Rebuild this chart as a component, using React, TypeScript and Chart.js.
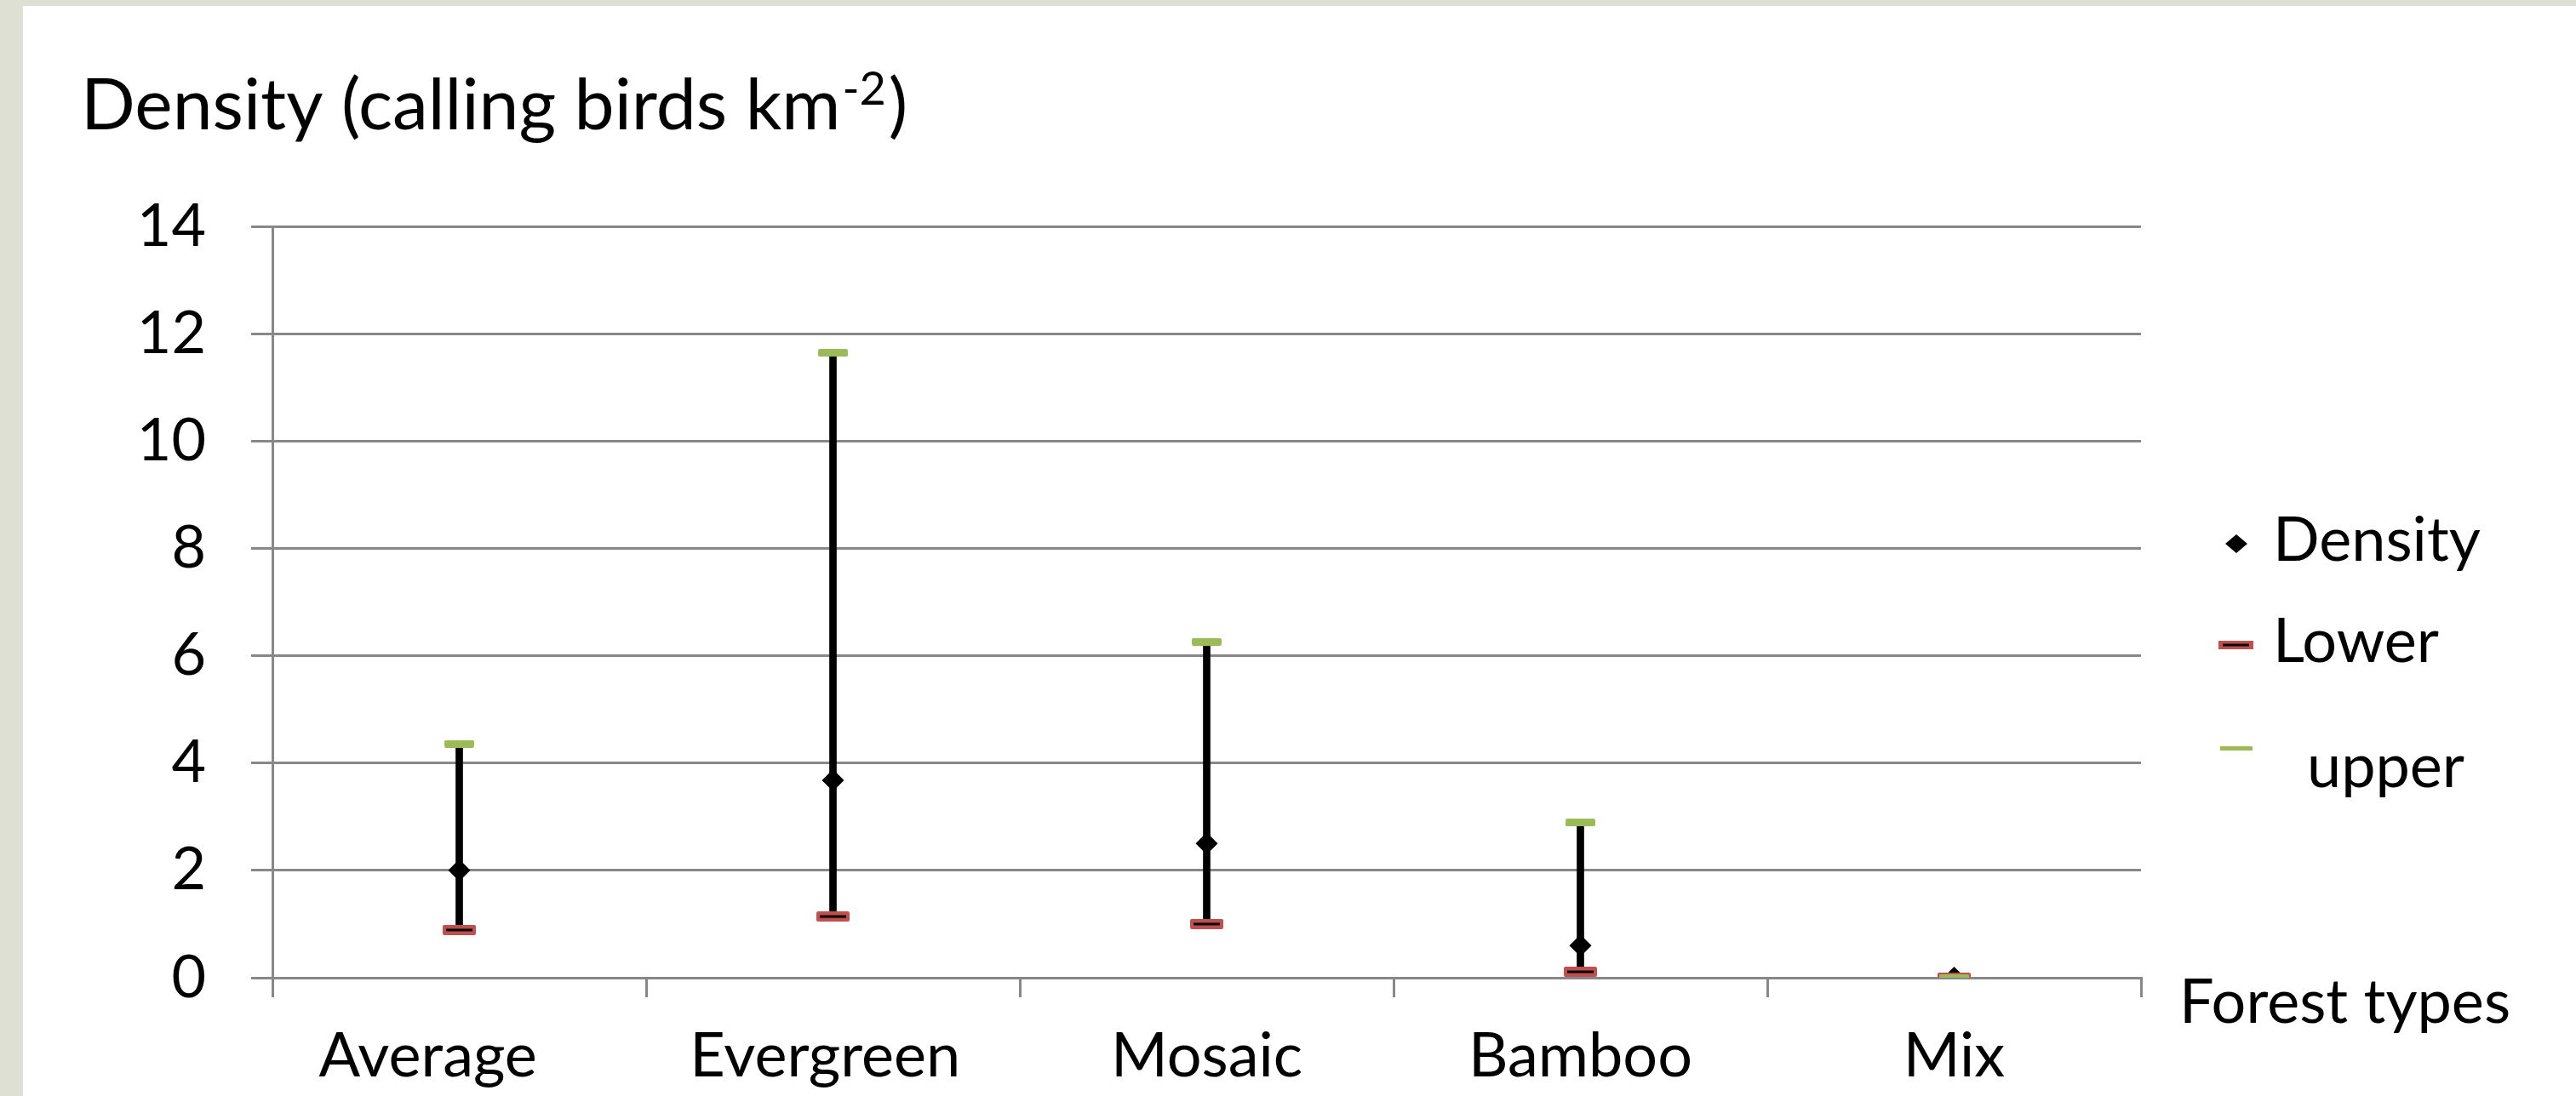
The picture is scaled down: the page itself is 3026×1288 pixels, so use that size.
import React, { useEffect, useRef } from "react";
import { Chart, registerables } from "chart.js";

Chart.register(...registerables);

// ---- data ----
const categories = ["Average    ", "Evergreen ", "Mosaic", "Bamboo", "Mix"];
const density = [2.0, 3.68, 2.5, 0.6, 0.0];
const lower = [0.89, 1.14, 1.0, 0.11, 0.0];
const upper = [4.36, 11.64, 6.26, 2.89, 0.0];
const yTicks = [0, 2, 4, 6, 8, 10, 12, 14];
const legendLabels = ["Density", "Lower", "upper"];
const yTitle = "Density (calling birds km";
const yTitleSup = "-2";
const xTitle = "Forest types";

const FONT = "Lato";
const GRID = "#888888";
const RED = "#c0504d";
const GREEN = "#9bbb59";

function makeCap(w: number, h: number, color: string, line: boolean) {
  const c = document.createElement("canvas");
  c.width = w;
  c.height = h;
  const g = c.getContext("2d")!;
  g.fillStyle = color;
  g.beginPath();
  (g as any).roundRect(0, 0, w, h, 2);
  g.fill();
  if (line) {
    g.fillStyle = "#000";
    g.fillRect(4, h / 2 - 1.5, w - 8, 3);
  }
  return c;
}

export default function App() {
  const ref = useRef<HTMLCanvasElement | null>(null);

  useEffect(() => {
    document.body.style.margin = "0";
    const canvas = ref.current!;
    const lowCap = makeCap(39, 12, RED, true);
    const upCap = makeCap(35, 9, GREEN, false);

    const overlay = {
      id: "overlay",
      afterDraw(chart: any) {
        const ctx = chart.ctx as CanvasRenderingContext2D;
        ctx.save();
        ctx.fillStyle = "#000";
        ctx.textAlign = "left";
        ctx.textBaseline = "alphabetic";
        // y title with superscript
        ctx.font = `84px ${FONT}`;
        let x = 68;
        ctx.fillText(yTitle, x, 145);
        x += ctx.measureText(yTitle).width + 2;
        ctx.font = `54px ${FONT}`;
        ctx.fillText(yTitleSup, x, 116);
        x += ctx.measureText(yTitleSup).width + 3;
        ctx.font = `84px ${FONT}`;
        ctx.fillText(")", x, 145);
        // x title
        ctx.font = `72px ${FONT}`;
        ctx.fillText(xTitle, 2533, 1195);
        // legend
        ctx.beginPath();
        ctx.moveTo(2600, 632 - 11);
        ctx.lineTo(2613, 632);
        ctx.lineTo(2600, 632 + 11);
        ctx.lineTo(2587, 632);
        ctx.closePath();
        ctx.fill();
        ctx.fillText(legendLabels[0], 2643, 652);
        ctx.fillStyle = RED;
        ctx.fillRect(2579, 746, 41, 10);
        ctx.fillStyle = "#000";
        ctx.fillRect(2584, 749.5, 31, 3);
        ctx.fillText(legendLabels[1], 2643, 771);
        ctx.fillStyle = GREEN;
        ctx.fillRect(2581, 870, 38, 5);
        ctx.fillStyle = "#000";
        ctx.fillText(legendLabels[2], 2683, 918);
        ctx.restore();
      },
    };

    const chart = new Chart(canvas, {
      type: "bar",
      data: {
        labels: categories,
        datasets: [
          {
            type: "line",
            label: legendLabels[2],
            data: upper,
            showLine: false,
            pointStyle: upCap as any,
            pointRadius: 10,
            order: 0,
          },
          {
            type: "line",
            label: legendLabels[1],
            data: lower,
            showLine: false,
            pointStyle: lowCap as any,
            pointRadius: 10,
            order: 1,
          },
          {
            type: "line",
            label: legendLabels[0],
            data: density,
            showLine: false,
            pointStyle: "rectRot",
            pointRadius: 13,
            pointBackgroundColor: "#000",
            pointBorderColor: "#000",
            pointBorderWidth: 0,
            order: 2,
          },
          {
            type: "bar",
            label: "range",
            data: lower.map((l, i) => [l, upper[i]]) as any,
            backgroundColor: "#000",
            borderWidth: 0,
            barThickness: 8,
            order: 3,
          },
        ],
      },
      options: {
        animation: false,
        responsive: false,
        devicePixelRatio: 1,
        layout: { padding: { left: 0, right: 511, top: 259, bottom: 0 } },
        plugins: {
          legend: { display: false },
          tooltip: { enabled: false },
          title: { display: false },
        },
        scales: {
          x: {
            type: "category",
            offset: true,
            grid: {
              display: true,
              drawOnChartArea: false,
              drawTicks: true,
              tickLength: 23,
              offset: true,
              color: GRID,
              lineWidth: 3,
            },
            border: { display: true, color: GRID, width: 3 },
            ticks: {
              color: "#000",
              font: { family: FONT, size: 72 },
              padding: 27,
              maxRotation: 0,
              autoSkip: false,
            },
            afterFit(scale: any) {
              scale.height = 139;
            },
          },
          y: {
            min: yTicks[0],
            max: yTicks[yTicks.length - 1],
            ticks: {
              stepSize: yTicks[1] - yTicks[0],
              color: "#000",
              font: { family: FONT, size: 70 },
              padding: 53,
            },
            grid: {
              color: GRID,
              lineWidth: 3,
              drawTicks: true,
              tickLength: 25,
            },
            border: { display: true, color: GRID, width: 3 },
            afterFit(scale: any) {
              scale.width = 293;
            },
          },
        },
      },
      plugins: [overlay],
    });
    return () => chart.destroy();
  }, []);

  return (
    <div
      style={{
        width: 3026,
        height: 1288,
        background: "#dde0d3",
        position: "relative",
        overflow: "hidden",
      }}
    >
      <canvas
        ref={ref}
        width={2999}
        height={1281}
        style={{
          position: "absolute",
          left: 27,
          top: 7,
          width: 2999,
          height: 1281,
          background: "#ffffff",
        }}
      />
    </div>
  );
}
